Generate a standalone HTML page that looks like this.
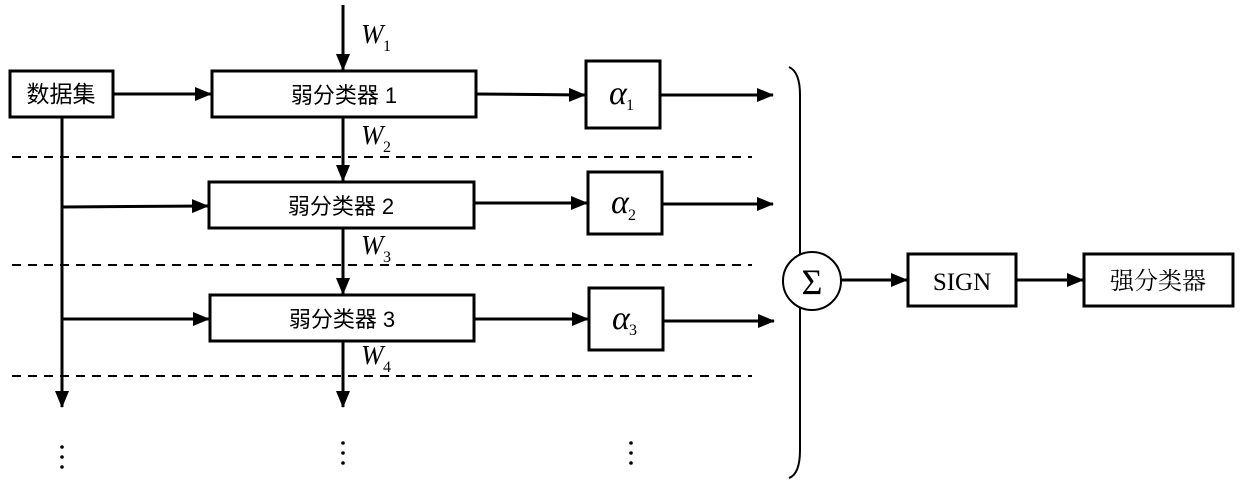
<!DOCTYPE html>
<html><head><meta charset="utf-8"><style>
body{margin:0;background:#fff}
text{font-family:"Liberation Serif","Noto Serif CJK SC",serif}
.cn{font-family:"Liberation Sans","Noto Sans CJK SC",sans-serif}
</style></head><body>
<svg width="1252" height="489" viewBox="0 0 1252 489" xmlns="http://www.w3.org/2000/svg">
<defs>
<marker id="b" markerWidth="17" markerHeight="14" refX="16" refY="7" orient="auto" markerUnits="userSpaceOnUse" viewBox="0 0 17 14"><path d="M0,0 L17,7 L0,14 z" fill="#000"/></marker></defs>
<g stroke="#000" stroke-width="3" fill="none">
<rect x="10" y="71" width="103" height="46" fill="#fff"/>
<rect x="212" y="71" width="264" height="46"/>
<rect x="209" y="182" width="265" height="46"/>
<rect x="210" y="295" width="264" height="46"/>
<rect x="586" y="61" width="74" height="67"/>
<rect x="588" y="172" width="74" height="62"/>
<rect x="589" y="288" width="74" height="62"/>
<rect x="908" y="254" width="108" height="52"/>
<rect x="1084" y="254" width="149" height="52"/>
<line x1="113" y1="94" x2="211" y2="94" marker-end="url(#b)"/>
<line x1="62" y1="117" x2="62" y2="407" marker-end="url(#b)"/>
<line x1="62" y1="207" x2="208" y2="206" marker-end="url(#b)"/>
<line x1="62" y1="319" x2="209" y2="319" marker-end="url(#b)"/>
<line x1="343" y1="5" x2="343" y2="70" marker-end="url(#b)"/>
<line x1="343" y1="117" x2="343" y2="181" marker-end="url(#b)"/>
<line x1="343" y1="228" x2="343" y2="294" marker-end="url(#b)"/>
<line x1="343" y1="341" x2="343" y2="407" marker-end="url(#b)"/>
<line x1="476" y1="94" x2="585" y2="95" marker-end="url(#b)"/>
<line x1="474" y1="203" x2="587" y2="203" marker-end="url(#b)"/>
<line x1="474" y1="319" x2="588" y2="319" marker-end="url(#b)"/>
<line x1="660" y1="95" x2="773" y2="95" marker-end="url(#b)"/>
<line x1="662" y1="204" x2="773" y2="204" marker-end="url(#b)"/>
<line x1="663" y1="321" x2="774" y2="321" marker-end="url(#b)"/>
<line x1="842" y1="280" x2="907" y2="280" marker-end="url(#b)"/>
<line x1="1016" y1="280" x2="1083" y2="280" marker-end="url(#b)"/>
</g>
<g stroke="#000" stroke-width="2" stroke-dasharray="9,7">
<line x1="12" y1="157" x2="752" y2="157"/>
<line x1="12" y1="265" x2="752" y2="265"/>
<line x1="12" y1="376" x2="752" y2="376"/>
</g>
<path d="M789,67 Q800,72 800,95 L800,450 Q800,474 789,478" stroke="#000" stroke-width="2" fill="none"/>
<circle cx="812" cy="281" r="29" fill="#fff" stroke="#000" stroke-width="2"/>
<text x="812" y="294" font-size="36" text-anchor="middle">Σ</text>
<text class="cn" x="61" y="102" text-anchor="middle" font-size="23">数据集</text>
<text class="cn" x="344" y="103" text-anchor="middle" font-size="22">弱分类器 1</text>
<text class="cn" x="341" y="214" text-anchor="middle" font-size="22">弱分类器 2</text>
<text class="cn" x="342" y="327" text-anchor="middle" font-size="22">弱分类器 3</text>
<text x="1158" y="289" text-anchor="middle" font-size="24" style="font-family:'Noto Serif CJK SC',serif">强分类器</text>
<text x="962" y="290" text-anchor="middle" font-size="25">SIGN</text>
<g font-style="italic" font-size="27">
<text x="361" y="43">W</text><text x="361" y="144">W</text><text x="361" y="254">W</text><text x="361" y="364">W</text>
</g>
<g font-style="italic" font-size="34">
<text x="609" y="104">α</text><text x="611" y="213">α</text><text x="612" y="329">α</text>
</g>
<g font-size="16">
<text x="383" y="51">1</text><text x="383" y="152">2</text><text x="383" y="262">3</text><text x="383" y="372">4</text>
<text x="626" y="110">1</text><text x="628" y="220">2</text><text x="629" y="335">3</text>
</g>
<g fill="#000">
<circle cx="62" cy="447" r="1.8"/><circle cx="62" cy="457" r="1.8"/><circle cx="62" cy="467" r="1.8"/>
<circle cx="343" cy="443" r="1.8"/><circle cx="343" cy="453" r="1.8"/><circle cx="343" cy="463" r="1.8"/>
<circle cx="631" cy="443" r="1.8"/><circle cx="631" cy="453" r="1.8"/><circle cx="631" cy="463" r="1.8"/>
</g>
</svg>
</body></html>
